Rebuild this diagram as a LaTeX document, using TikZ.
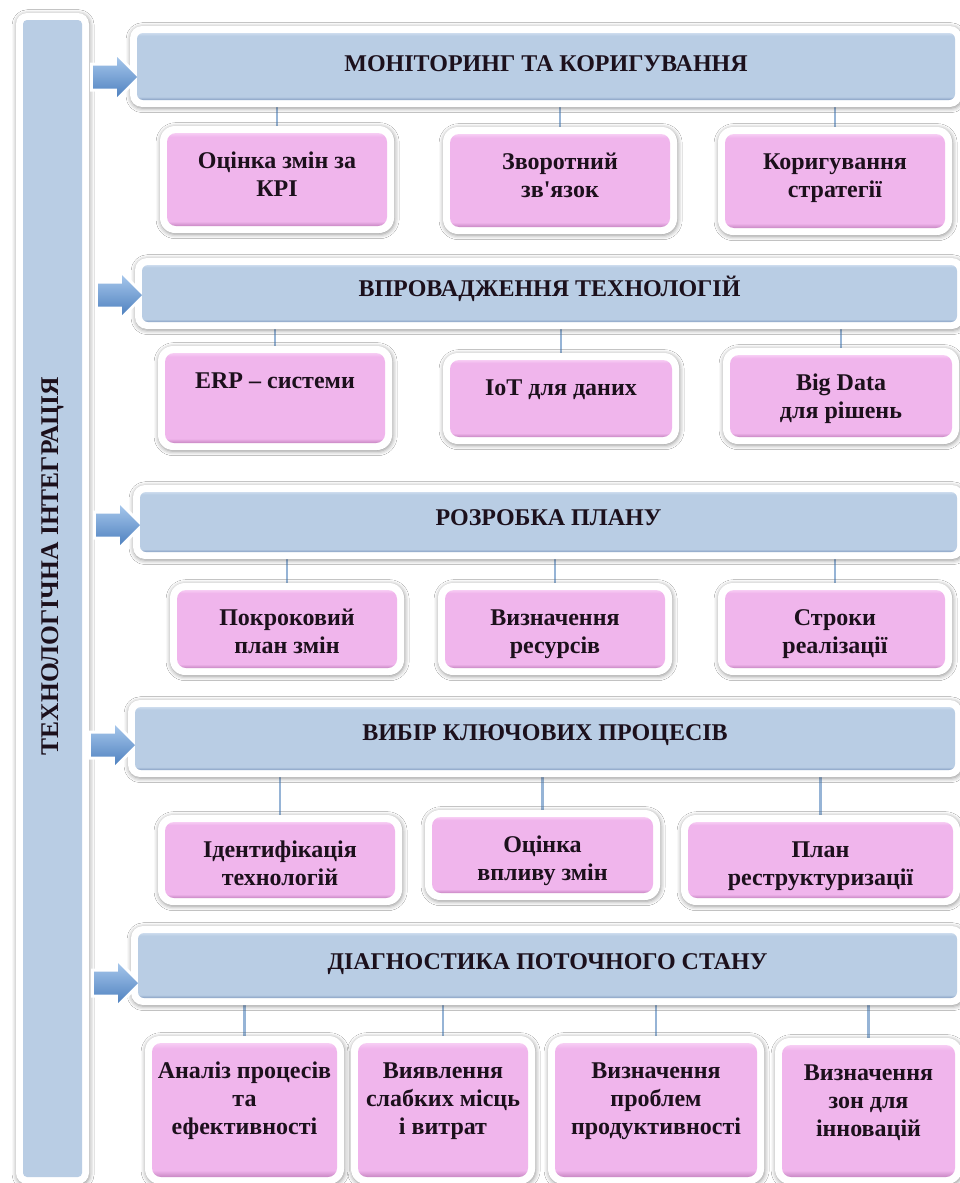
\documentclass[tikz,border=0pt]{standalone}
\usepackage{fontspec}
\setmainfont{Liberation Serif}
\usetikzlibrary{calc,backgrounds,shadows.blur}
\pgfdeclarelayer{mid}
\pgfsetlayers{background,mid,main}

\definecolor{hdrmain}{RGB}{185,205,228}
\definecolor{hdrdark}{RGB}{135,160,195}
\definecolor{hdrlight}{RGB}{205,220,238}
\definecolor{pinkmain}{RGB}{240,181,236}
\definecolor{pinkdark}{RGB}{200,135,195}
\definecolor{pinklight}{RGB}{247,205,244}
\definecolor{arrowlight}{RGB}{165,198,235}
\definecolor{arrowdark}{RGB}{80,130,192}
\definecolor{linkblue}{RGB}{150,180,214}
\definecolor{inkdark}{RGB}{28,16,28}

% flat body with a thin darker lower edge and a light upper edge
\pgfdeclareverticalshading{hdrshade}{100bp}{color(0bp)=(hdrdark); color(25bp)=(hdrdark); color(27.5bp)=(hdrmain); color(73bp)=(hdrmain); color(75bp)=(hdrlight); color(100bp)=(hdrlight)}
\pgfdeclareverticalshading{pinkshade}{100bp}{color(0bp)=(pinkdark); color(25bp)=(pinkdark); color(27.5bp)=(pinkmain); color(73bp)=(pinkmain); color(75bp)=(pinklight); color(100bp)=(pinklight)}

\tikzset{
  hdr/.style={shade, shading=hdrshade, rounded corners=6pt, inner sep=0pt, outer sep=0pt},
  pinkbox/.style={shade, shading=pinkshade, rounded corners=9pt, inner sep=0pt, outer sep=0pt},
  sidebar/.style={fill=hdrmain, rounded corners=4pt, inner sep=0pt, outer sep=0pt},
  glow/.style={fill=white, blur shadow={shadow xshift=0.6pt, shadow yshift=-1.2pt, shadow blur radius=4.5pt, shadow opacity=45}},
  link/.style={draw=linkblue, line width=2.4pt},
  blockarrow/.style={top color=arrowlight, bottom color=arrowdark, preaction={draw=white, line width=6pt, line join=miter}},
  txt/.style={font=\bfseries\fontsize{24}{28}\selectfont, text=inkdark, inner sep=0pt, outer sep=0pt},
}

% box from its corners: style, name, x1, y1, x2, y2
\newcommand\boxat[6]{%
  \pgfmathsetmacro\bxw{#5-#3}%
  \pgfmathsetmacro\bxh{#6-#4}%
  \node[#1, minimum width=\bxw pt, minimum height=\bxh pt] (#2) at ({(#3+#5)/2},{(#4+#6)/2}) {};}
% top-aligned label inside a box
\newcommand\boxtext[2]{\node[txt, anchor=base] (#1t) at ($(#1.north)+(0,35)$) {\parbox[t]{260pt}{\centering #2}};}
% white rim with soft shadow round a box
\newcommand\glowframe[2]{\path[glow, rounded corners=#2] ($(#1.north west)+(-7,-7)$) rectangle ($(#1.south east)+(7,7)$);}
% block arrow from the side bar into a header
\newcommand\sidearrow[3]{%
  \coordinate (#1) at (#2.west |- 0,#3);
  \path[blockarrow] (#1) ++(-44,-11.5) -- ++(24,0) -- ++(0,-8.5) -- (#1) -- ++(-20,20) -- ++(0,-8.5) -- ++(-24,0) -- cycle;}

\begin{document}
\begin{tikzpicture}[x=1pt,y=-1pt]
\begin{pgfonlayer}{background}
  \fill[white] (0,0) rectangle (960,1183);
\end{pgfonlayer}
\useasboundingbox (0,0) rectangle (960,1183);

% side bar
\boxat{sidebar}{bar}{23}{20}{82}{1177}
\node[txt, font=\bfseries\fontsize{25.5}{28}\selectfont, rotate=90] (vtitle) at (bar.center |- 0,566) {ТЕХНОЛОГІЧНА ІНТЕГРАЦІЯ};

% stage headers
\boxat{hdr}{h1}{137}{33}{955}{100}
\boxat{hdr}{h2}{142}{265}{957}{322}
\boxat{hdr}{h3}{140}{492}{957}{552}
\boxat{hdr}{h4}{135}{707}{955}{770}
\boxat{hdr}{h5}{138}{933}{957}{998}
\node[txt, anchor=base] (h1t) at ($(h1.center)+(0,5)$) {МОНІТОРИНГ ТА КОРИГУВАННЯ};
\node[txt, anchor=base] (h2t) at ($(h2.center)+(0,3)$) {ВПРОВАДЖЕННЯ ТЕХНОЛОГІЙ};
\node[txt, anchor=base] (h3t) at ($(h3.center)+(0,3)$) {РОЗРОБКА ПЛАНУ};
\node[txt, anchor=base] (h4t) at ($(h4.center)+(0,2)$) {ВИБІР КЛЮЧОВИХ ПРОЦЕСІВ};
\node[txt, anchor=base] (h5t) at ($(h5.center)+(0,4)$) {ДІАГНОСТИКА ПОТОЧНОГО СТАНУ};

% stage items
\boxat{pinkbox}{p11}{167}{133}{387}{226}
\boxat{pinkbox}{p12}{450}{134}{670}{227}
\boxat{pinkbox}{p13}{725}{134}{945}{228}
\boxat{pinkbox}{p21}{165}{353}{385}{443}
\boxat{pinkbox}{p22}{450}{360}{672}{437}
\boxat{pinkbox}{p23}{730}{355}{952}{437}
\boxat{pinkbox}{p31}{177}{590}{397}{668}
\boxat{pinkbox}{p32}{445}{590}{665}{668}
\boxat{pinkbox}{p33}{725}{590}{945}{668}
\boxat{pinkbox}{p41}{165}{822}{395}{898}
\boxat{pinkbox}{p42}{432}{817}{653}{893}
\boxat{pinkbox}{p43}{688}{822}{953}{898}
\boxat{pinkbox}{p51}{152}{1043}{337}{1177}
\boxat{pinkbox}{p52}{358}{1043}{528}{1177}
\boxat{pinkbox}{p53}{555}{1043}{757}{1177}
\boxat{pinkbox}{p54}{782}{1045}{955}{1177}

\boxtext{p11}{Оцінка змін за\\КРІ}
\boxtext{p12}{Зворотний\\зв\textquotesingle язок}
\boxtext{p13}{Коригування\\стратегії}
\boxtext{p21}{ERP – системи}
\boxtext{p22}{IoT для даних}
\boxtext{p23}{Big Data\\для рішень}
\boxtext{p31}{Покроковий\\план змін}
\boxtext{p32}{Визначення\\ресурсів}
\boxtext{p33}{Строки\\реалізації}
\boxtext{p41}{Ідентифікація\\технологій}
\boxtext{p42}{Оцінка\\впливу змін}
\boxtext{p43}{План\\реструктуризації}
\boxtext{p51}{Аналіз процесів\\та\\ефективності}
\boxtext{p52}{Виявлення\\слабких місць\\і витрат}
\boxtext{p53}{Визначення\\проблем\\продуктивності}
\boxtext{p54}{Визначення\\зон для\\інновацій}

% connectors and rims behind the boxes
\begin{pgfonlayer}{background}
  \foreach \h/\items in {h1/{p11,p12,p13}, h2/{p21,p22,p23}, h3/{p31,p32,p33}, h4/{p41,p42,p43}, h5/{p51,p52,p53,p54}}{
    \foreach \p in \items {\draw[link] (\p.north) -- (\p.north |- \h.south);}
  }
  \glowframe{bar}{11pt}
  \foreach \h in {h1,h2,h3,h4,h5} {\glowframe{\h}{12pt}}
  \foreach \p in {p11,p12,p13,p21,p22,p23,p31,p32,p33,p41,p42,p43,p51,p52,p53,p54} {\glowframe{\p}{15pt}}
\end{pgfonlayer}

% arrows from the side bar into each stage
\begin{pgfonlayer}{mid}
  \sidearrow{a1}{h1}{77}
  \sidearrow{a2}{h2}{295}
  \sidearrow{a3}{h3}{525}
  \sidearrow{a4}{h4}{745}
  \sidearrow{a5}{h5}{983}
\end{pgfonlayer}
\end{tikzpicture}
\end{document}
